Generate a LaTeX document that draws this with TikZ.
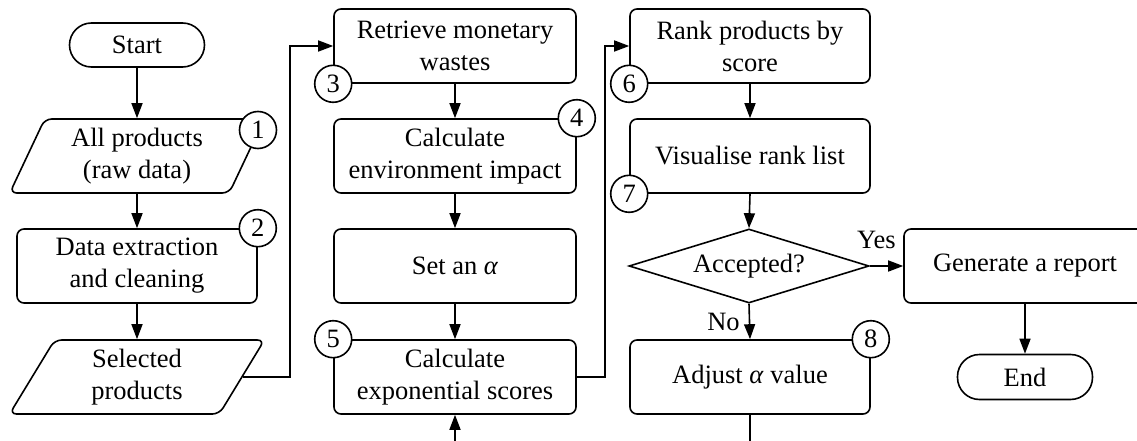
\documentclass[tikz,border=0pt]{standalone}
\usepackage{fontspec}
\setmainfont{Liberation Serif}
\usetikzlibrary{shapes.geometric,arrows.meta}
\begin{document}
\begin{tikzpicture}[x=1pt,y=-1pt,
  every node/.style={font=\fontsize{26.5}{32}\selectfont},
  proc/.style={draw, line width=1.6pt, rounded corners=7pt, minimum width=242pt, minimum height=74pt, inner sep=0pt, align=center},
  term/.style={draw, line width=1.6pt, rounded corners=22pt, minimum width=135pt, minimum height=44pt, inner sep=0pt},
  io/.style={draw, line width=1.6pt, trapezium, trapezium left angle=66, trapezium right angle=114, trapezium stretches=true, minimum width=255pt, minimum height=74pt, inner sep=0pt, align=center, rounded corners=7pt},
  dec/.style={draw, line width=1.6pt, diamond, shape aspect=3.24, minimum width=240pt, minimum height=74pt, inner sep=0pt},
  num/.style={draw, circle, line width=1.6pt, fill=white, minimum size=37pt, inner sep=0pt},
  arr/.style={line width=1.6pt, -{Triangle[length=15pt,width=11pt]}},
  conn/.style={line width=1.6pt},
  lab/.style={inner sep=0pt}
]
\useasboundingbox (0,0) rectangle (1137,441);
\clip (0,0) rectangle (1137,441);

% column 1
\node[term] (start) at (137,45) {Start};
\node[io] (all) at (137,156) {All products\\(raw data)};
\node[proc, minimum width=240pt] (ext) at (137,266) {Data extraction\\and cleaning};
\node[io] (sel) at (137,377) {Selected\\products};
% column 2
\node[proc] (ret) at (455,46) {Retrieve monetary\\wastes};
\node[proc] (env) at (455,156) {Calculate\\environment impact};
\node[proc] (set) at (455,266) {Set an \textit{α}};
\node[proc] (exp) at (455,377) {Calculate\\exponential scores};
% column 3
\node[proc, minimum width=240pt] (rank) at (750,46) {Rank products by\\score};
\node[proc, minimum width=240pt] (vis) at (750,156) {Visualise rank list};
\node[dec] (acc) at (749,266) {Accepted?};
\node[proc, minimum width=240pt] (adj) at (750,377) {Adjust \textit{α} value};
% column 4
\node[proc] (rep) at (1025,266) {Generate a report};
\node[term, minimum height=45pt] (end) at (1025,377) {End};

\coordinate (botin) at (455,460);
\coordinate (botout) at (750,460);

% connectors
\draw[arr] (start) -- (all);
\draw[arr] (all) -- (ext);
\draw[arr] (ext) -- (sel);
\draw[arr] (sel.east) -- ++(47,0) |- (ret.west);
\draw[arr] (ret) -- (env);
\draw[arr] (env) -- (set);
\draw[arr] (set) -- (exp);
\draw[arr] (exp.east) -- ++(28,0) |- (rank.west);
\draw[arr] (rank) -- (vis);
\draw[arr] (vis.south) -- (acc.north);
\draw[arr] (acc.south) -- node[lab, left=9pt] {No} (adj.north);
\draw[arr] (acc.east) -- node[lab, above=16pt, xshift=-10pt] {Yes} (rep.west);
\draw[arr] (rep) -- (end);
\draw[conn] (adj.south) -- (botout);
\draw[arr] (botin) -- (exp.south);

% step numbers
\node[num] (n1) at (258,130) {1};
\node[num] (n2) at (ext.north east) {2};
\node[num] (n3) at (ret.south west) {3};
\node[num] (n4) at (env.north east) {4};
\node[num] (n5) at (exp.north west) {5};
\node[num] (n6) at (rank.south west) {6};
\node[num] (n7) at (vis.south west) {7};
\node[num] (n8) at (adj.north east) {8};
\end{tikzpicture}
\end{document}
